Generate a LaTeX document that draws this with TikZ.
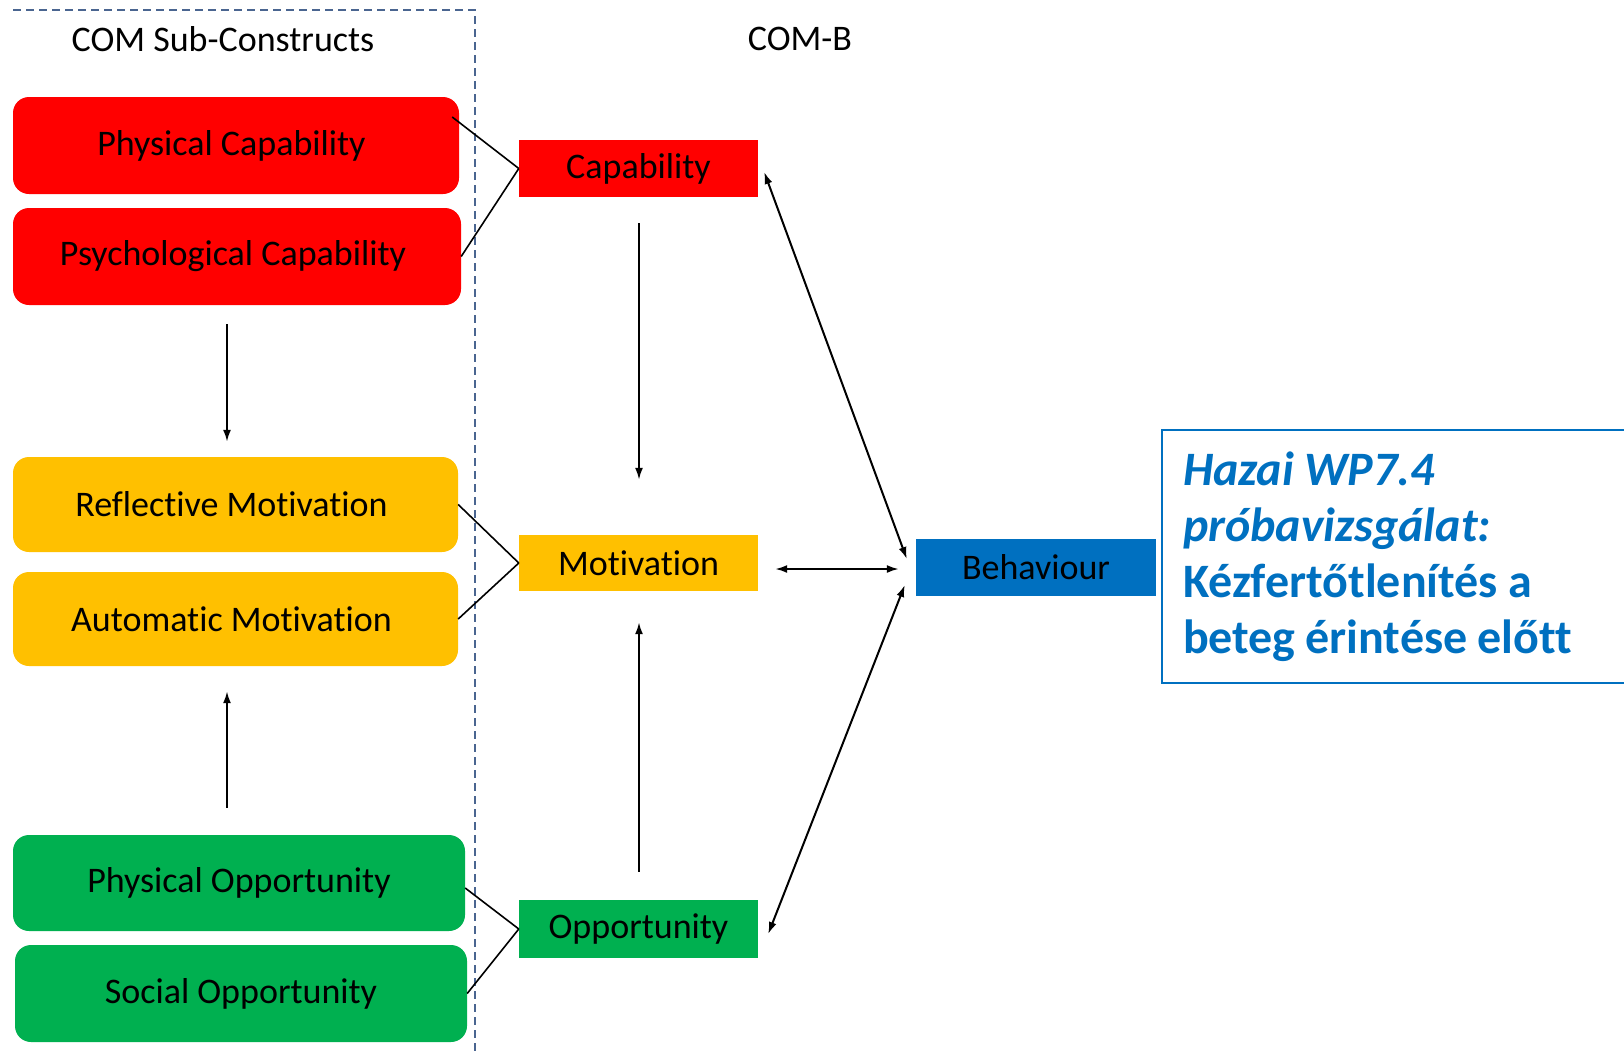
\documentclass[tikz,border=0pt]{standalone}
\usepackage{fontspec}
\setmainfont{Carlito}[Ligatures={NoCommon,NoContextual,NoRequired},Contextuals=NoAlternate]
\usetikzlibrary{arrows.meta,calc}
\definecolor{cred}{HTML}{FF0000}
\definecolor{cyel}{HTML}{FFC000}
\definecolor{cgrn}{HTML}{00B050}
\definecolor{cblu}{HTML}{0070C0}
\definecolor{cdash}{HTML}{4A6590}
\newcommand{\tightsp}{\spaceskip=0.21em\relax}
\begin{document}
\begin{tikzpicture}[x=1pt,y=-1pt,
 sub/.style={rounded corners=16pt, inner sep=0pt, font=\fontsize{36}{43}\selectfont, text=black},
 com/.style={inner sep=0pt, minimum width=239pt, font=\fontsize{36}{43}\selectfont, text=black},
 title/.style={inner sep=0pt, font=\fontsize{36}{43}\selectfont, text=black},
 arr/.style={line width=2pt, -{Latex[length=12pt,width=8pt]}},
 darr/.style={line width=2pt, {Latex[length=12pt,width=8pt]}-{Latex[length=12pt,width=8pt]}},
 con/.style={line width=1.6pt}]
\useasboundingbox (0,0) rectangle (1624,1053);
\fill[white] (0,0) rectangle (1624,1053);
% dashed frame
\draw[cdash, line width=2pt, dash pattern=on 8pt off 5pt] (13,10) -- (475,10) -- (475,1060);
% titles
\node[title] (T1) at (223,39) {COM Sub-Constructs};
\node[title] (T2) at (800,39) {COM-B};
% sub-constructs
\node[sub, fill=cred, minimum width=446pt, minimum height=97pt] (PC) at (236,145.5) {Physical Capability\kern9pt};
\node[sub, fill=cred, minimum width=448pt, minimum height=97pt] (PsC) at (237,256.5) {Psychological Capability\kern8pt};
\node[sub, fill=cyel, minimum width=445pt, minimum height=95pt] (RM) at (235.5,504.5) {Reflective Motivation\kern8pt};
\node[sub, fill=cyel, minimum width=445pt, minimum height=94pt] (AM) at (235.5,619) {Automatic Motivation\kern8pt};
\node[sub, fill=cgrn, minimum width=452pt, minimum height=96pt] (PO) at (239,883) {Physical Opportunity};
\node[sub, fill=cgrn, minimum width=452pt, minimum height=97pt] (SO) at (241,993.5) {Social Opportunity};
% COM-B
\node[com, fill=cred, minimum height=57pt] (Cap) at (638.5,168.5) {Capability};
\node[com, fill=cyel, minimum height=56pt] (Mot) at (638.5,563) {Motivation};
\node[com, fill=cgrn, minimum height=58pt] (Opp) at (638.5,929) {Opportunity};
\node[com, fill=cblu, minimum width=240pt, minimum height=57pt] (Beh) at (1036,567.5) {Behaviour};
% text box
\node[draw=cblu, line width=2pt, anchor=north west, inner xsep=21pt, inner ysep=0pt,
      text width=427pt, minimum height=253pt, align=left, text=cblu,
      font=\fontsize{48}{56}\selectfont\bfseries] (TB) at (1161,429)
  {\tightsp\textit{Hazai WP7.4}\\\textit{próbavizsgálat:}\\Kézfertőtlenítés a\\beteg érintése előtt};
% connectors
\draw[con] ($(PC.east)+(-7,-28.5)$) -- (Cap.west);
\draw[con] (PsC.east) -- (Cap.west);
\draw[con] (RM.east) -- (Mot.west);
\draw[con] (AM.east) -- (Mot.west);
\draw[con] ($(PO.east)+(0,5)$) -- (Opp.west);
\draw[con] (SO.east) -- (Opp.west);
% arrows
\draw[arr] ($(PsC.south)+(-10,19)$) -- ($(RM.north)+(-8.5,-15)$);
\draw[arr] ($(PO.north)+(-12,-27)$) -- ($(AM.south)+(-8.5,25)$);
\draw[arr] ($(Cap.south)+(0.5,26)$) -- ($(Mot.north)+(0.5,-55)$);
\draw[arr] ($(Opp.north)+(0.5,-28)$) -- ($(Mot.south)+(0.5,31)$);
\draw[darr] ($(Cap.east)+(6,3.5)$) -- ($(Beh.west)+(-9,-8.5)$);
\draw[darr] ($(Mot.east)+(17,6)$) -- ($(Beh.west)+(-17,1.5)$);
\draw[darr] ($(Opp.east)+(10,5)$) -- ($(Beh.west)+(-11,17.5)$);
\end{tikzpicture}
\end{document}
